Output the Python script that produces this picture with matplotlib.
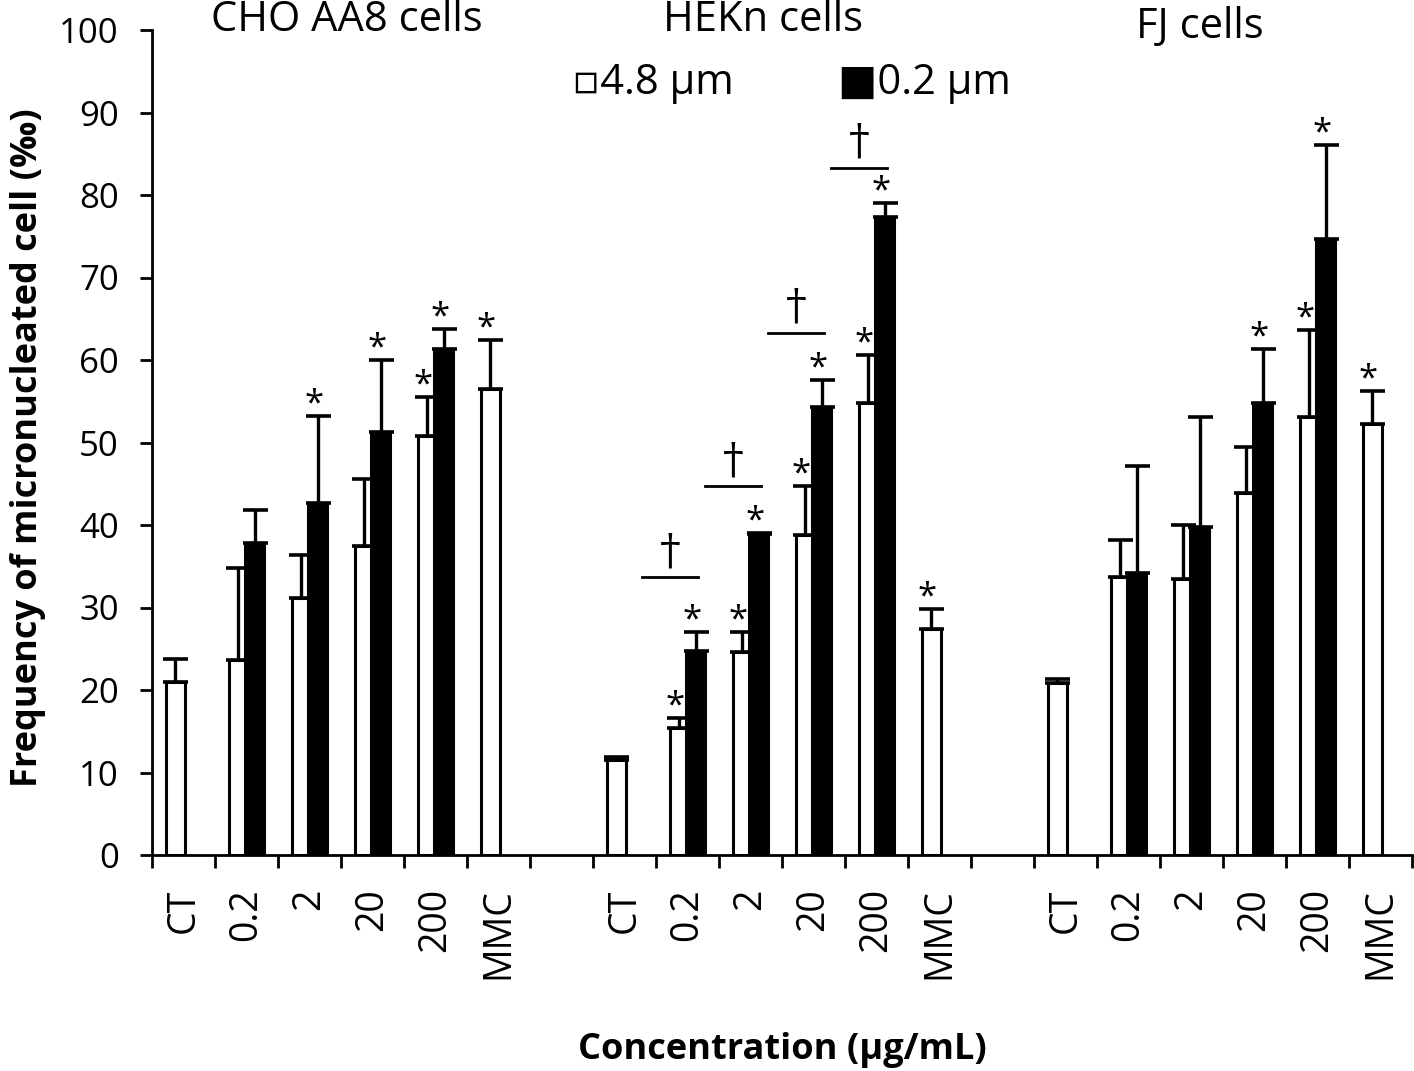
import numpy as np
import matplotlib
matplotlib.use("Agg")
import matplotlib.pyplot as plt

plt.rcParams['font.family'] = ['Open Sans', 'DejaVu Sans']

nan = np.nan

# group and concentration labels
groups = ['CHO AA8 cells', 'HEKn cells', 'FJ cells']
conc = ['CT', '0.2', '2', '20', '200', 'MMC']

# mean values (white = 4.8 um, black = 0.2 um) and top of error bar
cho_white = [21.0, 23.6, 31.2, 37.5, 50.8, 56.5]
cho_white_top = [23.7, 34.8, 36.4, 45.6, 55.5, 62.4]
cho_black = [nan, 37.8, 42.7, 51.3, 61.3, nan]
cho_black_top = [nan, 41.8, 53.2, 60.0, 63.8, nan]

hek_white = [11.5, 15.4, 24.6, 38.8, 54.8, 27.4]
hek_white_top = [11.9, 16.6, 27.0, 44.7, 60.6, 29.8]
hek_black = [nan, 24.7, 38.9, 54.3, 77.3, nan]
hek_black_top = [nan, 27.0, 39.0, 57.6, 79.0, nan]

fj_white = [20.9, 33.7, 33.5, 43.9, 53.1, 52.2]
fj_white_top = [21.3, 38.2, 40.0, 49.5, 63.6, 56.3]
fj_black = [nan, 34.2, 39.7, 54.8, 74.7, nan]
fj_black_top = [nan, 47.1, 53.1, 61.3, 86.1, nan]

# significance (*) markers
cho_white_sig = [0, 0, 0, 0, 1, 1]
cho_black_sig = [0, 0, 1, 1, 1, 0]
hek_white_sig = [0, 1, 1, 1, 1, 1]
hek_black_sig = [0, 1, 1, 1, 1, 0]
fj_white_sig = [0, 0, 0, 0, 1, 1]
fj_black_sig = [0, 0, 0, 1, 1, 0]

# dagger brackets in HEKn (concentration index, height)
hek_dagger_idx = [1, 2, 3, 4]
hek_dagger_y = [33.7, 44.7, 63.3, 83.3]

white = np.array(cho_white + [nan] + hek_white + [nan] + fj_white)
white_top = np.array(cho_white_top + [nan] + hek_white_top + [nan] + fj_white_top)
black = np.array(cho_black + [nan] + hek_black + [nan] + fj_black)
black_top = np.array(cho_black_top + [nan] + hek_black_top + [nan] + fj_black_top)
white_sig = cho_white_sig + [0] + hek_white_sig + [0] + fj_white_sig
black_sig = cho_black_sig + [0] + hek_black_sig + [0] + fj_black_sig
labels = conc + [''] + conc + [''] + conc

slots = np.arange(len(labels)) + 0.5
bw = 0.30
off = 0.13

fig = plt.figure(figsize=(14.14, 10.71), dpi=100)
ax = fig.add_axes([152/1414, 1-855/1071, (1412-152)/1414, (855-30)/1071])

m = ~np.isnan(white)
ax.bar(slots[m] - off, white[m], bw, color='white', edgecolor='black', linewidth=2.2, zorder=2)
ax.errorbar(slots[m] - off, white[m], yerr=[np.zeros(m.sum()), white_top[m] - white[m]],
            fmt='none', ecolor='black', elinewidth=2.4, capsize=9, capthick=2.6, zorder=2.5)
m2 = ~np.isnan(black)
ax.bar(slots[m2] + off, black[m2], bw, color='black', edgecolor='black', linewidth=2.2, zorder=3)
ax.errorbar(slots[m2] + off, black[m2], yerr=[np.zeros(m2.sum()), black_top[m2] - black[m2]],
            fmt='none', ecolor='black', elinewidth=2.4, capsize=9, capthick=2.6, zorder=3.5)

# asterisks
for i in range(len(labels)):
    if white_sig[i]:
        ax.text(slots[i] - off - 0.06, white_top[i] + 0.3, '*', ha='center', va='baseline', fontsize=25)
    if black_sig[i]:
        ax.text(slots[i] + off - 0.05, black_top[i] + 0.3, '*', ha='center', va='baseline', fontsize=25)

# dagger brackets
for idx, yv in zip(hek_dagger_idx, hek_dagger_y):
    c = slots[7 + idx]
    ax.plot([c - 0.72, c + 0.17], [yv, yv], color='black', linewidth=2, clip_on=False)
    ax.text(c - 0.275, yv + 0.6, '\u2020', ha='center', va='bottom', fontsize=30,
            family=['DejaVu Serif'])

ax.set_xlim(0, 20)
ax.set_ylim(0, 100)
ax.set_xticks(np.arange(0, 21))
ax.set_xticklabels([])
ax.set_xticks(slots, labels, minor=True, rotation=90)
ax.set_yticks(np.arange(0, 101, 10))
ax.tick_params(axis='x', which='major', direction='out', length=9, width=2)
ax.tick_params(axis='x', which='minor', length=0, pad=24, labelsize=27)
ax.tick_params(axis='y', direction='out', length=9, width=2, pad=15, labelsize=25)
for lab in ax.get_xticklabels(minor=True):
    lab.set_verticalalignment('top')
ax.spines['top'].set_visible(False)
ax.spines['right'].set_visible(False)
ax.spines['left'].set_linewidth(2)
ax.spines['bottom'].set_linewidth(2)

# group titles
for gx, gy, g in zip([3.1, 9.7, 16.63], [101.2, 101.2, 100.4], groups):
    ax.text(gx, gy, g, ha='center', va='center', fontsize=30, clip_on=False)

# legend as text
ax.text(6.67, 93.6, '\u25ab4.8 \u00b5m', ha='left', va='center', fontsize=30)
ax.text(10.89, 93.6, '\u25a00.2 \u00b5m', ha='left', va='center', fontsize=30)

fig.text(782/1414, 1-1050/1071, 'Concentration (\u00b5g/mL)', ha='center', va='center',
         fontsize=26, fontweight='bold')
fig.text(28/1414, 1-448/1071, 'Frequency of micronucleated cell (\u2030)', ha='center', va='center',
         rotation=90, fontsize=26, fontweight='bold')

fig.savefig('out.png', dpi=100)
